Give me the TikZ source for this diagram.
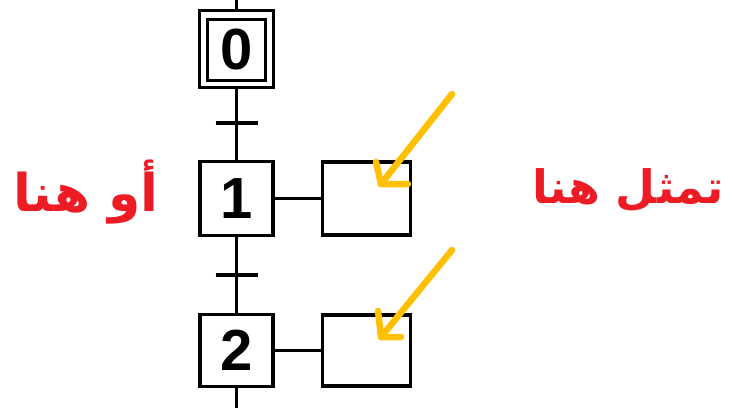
\documentclass[tikz,border=0pt]{standalone}
\usepackage{fontspec}
\setmainfont{Liberation Sans}
\newfontfamily\arabicfont[Script=Arabic]{DejaVu Sans}
\TeXXeTstate=1
\definecolor{txtred}{HTML}{ED1C24}
\definecolor{arrowyel}{HTML}{FFC000}
\begin{document}
\begin{tikzpicture}[x=1pt,y=-1pt,
  line width=3.2pt,
  stepbox/.style={draw=black,line width=3.2pt,minimum width=73pt,minimum height=74pt,inner sep=0pt,font=\fontsize{58}{58}\selectfont\bfseries},
  actbox/.style={draw=black,line width=3.2pt,minimum width=88pt,minimum height=73pt,inner sep=0pt},
  link/.style={draw=black,line width=3.2pt},
  trans/.style={draw=black,line width=3.2pt},
  hint/.style={draw=arrowyel,line width=6.5pt,line cap=round,line join=round},
  lbl/.style={text=txtred,font=\arabicfont\fontsize{46}{46}\selectfont\bfseries}
]
\useasboundingbox (0,0) rectangle (733,408);
% step 0 (initial, double box)
\node[stepbox,minimum width=74pt,minimum height=77pt] (s0) at (236.5,49) {};
\node[draw=black,line width=2.8pt,minimum width=58pt,minimum height=61pt,inner sep=0pt,font=\fontsize{58}{58}\selectfont\bfseries] (s0i) at (236.5,50) {0};
% steps 1 and 2
\node[stepbox] (s1) at (236.5,198.5) {1};
\node[stepbox,minimum height=72pt] (s2) at (236.5,350.5) {2};
% action boxes
\node[actbox] (a1) at (366.5,198.5) {};
\node[actbox,minimum height=71pt] (a2) at (366.5,350.5) {};
% links
\coordinate (top) at (236.5,0);
\coordinate (bot) at (236.5,408);
\draw[link] (top) -- (s0.north);
\draw[link] (s0.south) -- (s1.north);
\draw[link] (s1.south) -- (s2.north);
\draw[link] (s2.south) -- (bot);
\draw[link] (s1.east) -- (a1.west);
\draw[link] (s2.east) -- (a2.west);
% transitions
\coordinate (t1) at (236.5,123);
\coordinate (t2) at (236.5,275);
\draw[trans] ([xshift=-21pt]t1) -- ([xshift=21pt]t1);
\draw[trans] ([xshift=-21pt]t2) -- ([xshift=21pt]t2);
% yellow arrows
\coordinate (p1s) at (452,94);
\coordinate (p1t) at (381,184);
\coordinate (p1a) at (376,162);
\coordinate (p1b) at (408,184);
\draw[hint] (p1s) -- (p1t);
\draw[hint] (p1a) -- (p1t) -- (p1b);
\coordinate (p2s) at (452,250);
\coordinate (p2t) at (381,337);
\coordinate (p2a) at (378,311);
\coordinate (p2b) at (401,337);
\draw[hint] (p2s) -- (p2t);
\draw[hint] (p2a) -- (p2t) -- (p2b);
% labels
\node[lbl] (lr) at (628,190) {\beginR تمثل هنا\endR};
\node[lbl,font=\arabicfont\fontsize{52}{52}\selectfont\bfseries] (ll) at (86,192) {\beginR أو هنا\endR};
\end{tikzpicture}
\end{document}
